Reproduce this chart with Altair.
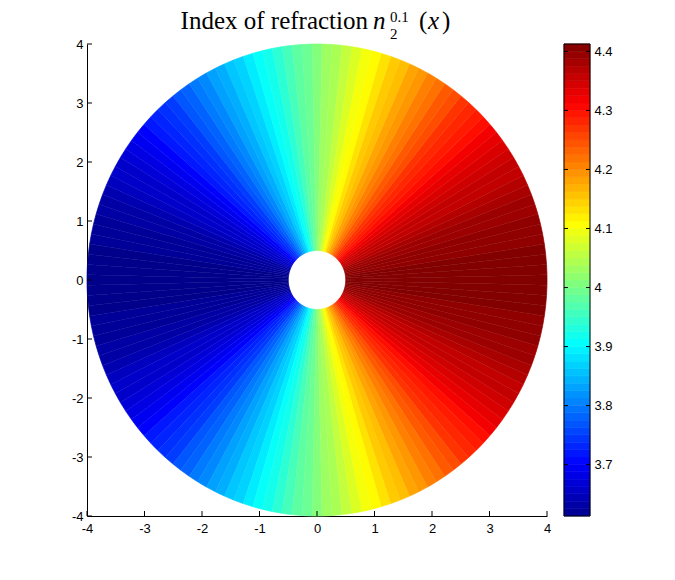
import altair as alt
import numpy as np
import pandas as pd

# Angular sectors (centre angle, degrees) and the refraction index
angles_deg = [i * 2.5 for i in range(144)]
n_values = [
    # 0 .. 180 degrees
    4.41, 4.41, 4.41, 4.41, 4.40, 4.40, 4.40, 4.39, 4.39, 4.38,
    4.37, 4.36, 4.36, 4.35, 4.34, 4.33, 4.32, 4.30, 4.29, 4.28,
    4.27, 4.25, 4.24, 4.22, 4.21, 4.19, 4.18, 4.16, 4.15, 4.13,
    4.11, 4.10, 4.08, 4.06, 4.04, 4.03, 4.01, 3.99, 3.98, 3.96,
    3.94, 3.92, 3.91, 3.89, 3.87, 3.86, 3.84, 3.83, 3.81, 3.80,
    3.78, 3.77, 3.75, 3.74, 3.73, 3.72, 3.70, 3.69, 3.68, 3.67,
    3.66, 3.66, 3.65, 3.64, 3.63, 3.63, 3.62, 3.62, 3.62, 3.61,
    3.61, 3.61, 3.61,
    # 182.5 .. 357.5 degrees
    3.61, 3.61, 3.61, 3.62, 3.62, 3.62, 3.63, 3.63, 3.64, 3.65,
    3.66, 3.66, 3.67, 3.68, 3.69, 3.70, 3.72, 3.73, 3.74, 3.75,
    3.77, 3.78, 3.80, 3.81, 3.83, 3.84, 3.86, 3.87, 3.89, 3.91,
    3.92, 3.94, 3.96, 3.98, 3.99, 4.01, 4.03, 4.04, 4.06, 4.08,
    4.10, 4.11, 4.13, 4.15, 4.16, 4.18, 4.19, 4.21, 4.22, 4.24,
    4.25, 4.27, 4.28, 4.29, 4.30, 4.32, 4.33, 4.34, 4.35, 4.36,
    4.36, 4.37, 4.38, 4.39, 4.39, 4.40, 4.40, 4.40, 4.41, 4.41,
    4.41,
]
inner_radius = 0.5
outer_radius = 4.0
x_ticks = [-4, -3, -2, -1, 0, 1, 2, 3, 4]
y_ticks = [-4, -3, -2, -1, 0, 1, 2, 3, 4]
cbar_ticks = [3.7, 3.8, 3.9, 4.0, 4.1, 4.2, 4.3, 4.4]
cbar_min, cbar_max = 3.613, 4.4125
cbar_levels = 64

# jet colormap stops
jet_fracs = [0, 7 / 63, 23 / 63, 39 / 63, 55 / 63, 1]
jet_colors = ["#00008f", "#0000ff", "#00ffff", "#ffff00", "#ff0000", "#800000"]
jet_domain = [cbar_min + f * (cbar_max - cbar_min) for f in jet_fracs]

# build annular sector polygons
half = 1.25
rows = []
for s, (a, v) in enumerate(zip(angles_deg, n_values)):
    arc = np.radians(np.linspace(a - half, a + half, 3))
    pts = [(outer_radius * np.cos(t), outer_radius * np.sin(t)) for t in arc]
    pts += [(inner_radius * np.cos(t), inner_radius * np.sin(t)) for t in arc[::-1]]
    for k, (px, py) in enumerate(pts):
        rows.append({"sector": s, "k": k, "x": px, "y": py, "n": v})
poly = pd.DataFrame(rows)

# colour bar bands (64-level jet)
edges = np.linspace(cbar_min, cbar_max, cbar_levels + 1)
bands = pd.DataFrame({"lo": edges[:-1], "hi": edges[1:], "mid": (edges[:-1] + edges[1:]) / 2})

W, H = 460, 472
CB_X0, CB_X1 = 477, 503
FONT = "Liberation Sans"
SERIF = "Liberation Serif"
xscale = alt.Scale(domain=[-4, 4], nice=False, zero=False)
yscale = alt.Scale(domain=[-4, 4], nice=False, zero=False)
cbscale = alt.Scale(domain=[cbar_min, cbar_max], nice=False, zero=False)
cscale = alt.Scale(type="linear", domain=jet_domain, range=jet_colors, interpolate="rgb")

axis_common = dict(title=None, grid=False, ticks=False, domainColor="black",
                   domainWidth=1, labelFont=FONT, labelFontSize=13, labelColor="black",
                   labelExpr="'' + datum.value", labelFlush=False, labelOverlap=False)
x_axis = alt.Axis(values=x_ticks, labelPadding=6, **axis_common)
y_axis = alt.Axis(values=y_ticks, labelPadding=4, **axis_common)

field = alt.Chart(poly).mark_line(filled=True, strokeWidth=0.7).encode(
    x=alt.X("x:Q", scale=xscale, axis=x_axis),
    y=alt.Y("y:Q", scale=yscale, axis=y_axis),
    color=alt.Color("n:Q", scale=cscale, legend=None),
    stroke=alt.Stroke("n:Q", scale=cscale, legend=None),
    detail="sector:N",
    order="k:Q",
)

xt = alt.Chart(pd.DataFrame({"x": x_ticks})).mark_rule(color="black", strokeWidth=1).encode(
    x=alt.X("x:Q", scale=xscale, axis=x_axis),
    y=alt.value(H), y2=alt.value(H - 5),
)
yt = alt.Chart(pd.DataFrame({"y": y_ticks})).mark_rule(color="black", strokeWidth=1).encode(
    y=alt.Y("y:Q", scale=yscale, axis=y_axis),
    x=alt.value(0), x2=alt.value(5),
)
main = alt.layer(field, xt, yt)

# colour bar
cb_axis = alt.Axis(orient="right", offset=CB_X1 - W, values=cbar_ticks, title=None,
                   grid=False, ticks=False, domain=False, labelPadding=4,
                   labelFont=FONT, labelFontSize=13, labelColor="black",
                   labelOverlap=False, labelFlush=False,
                   labelExpr="datum.value == 4 ? '4' : format(datum.value, '.1f')")
cb_rect = alt.Chart(bands).mark_rect(strokeWidth=0.6).encode(
    y=alt.Y("lo:Q", scale=cbscale, axis=cb_axis),
    y2="hi:Q",
    x=alt.value(CB_X0), x2=alt.value(CB_X1),
    color=alt.Color("mid:Q", scale=cscale, legend=None),
    stroke=alt.Stroke("mid:Q", scale=cscale, legend=None),
)
cb_frame = alt.Chart(pd.DataFrame({"lo": [cbar_min], "hi": [cbar_max]})).mark_rect(
    filled=False, stroke="black", strokeWidth=1).encode(
    y=alt.Y("lo:Q", scale=cbscale, axis=cb_axis), y2="hi:Q",
    x=alt.value(CB_X0), x2=alt.value(CB_X1),
)
cb_df = pd.DataFrame({"lo": cbar_ticks})
cb_tick_l = alt.Chart(cb_df).mark_rule(color="black", strokeWidth=1).encode(
    y=alt.Y("lo:Q", scale=cbscale, axis=cb_axis),
    x=alt.value(CB_X0), x2=alt.value(CB_X0 + 4),
)
cb_tick_r = alt.Chart(cb_df).mark_rule(color="black", strokeWidth=1).encode(
    y=alt.Y("lo:Q", scale=cbscale, axis=cb_axis),
    x=alt.value(CB_X1 - 4), x2=alt.value(CB_X1),
)
colorbar = alt.layer(cb_rect, cb_frame, cb_tick_l, cb_tick_r)


# title pieces (LaTeX-like: Index of refraction n_2^{0.1}(x))
def piece(text, x, y, size, italic=False, align="left"):
    kw = dict(text=text, font=SERIF, fontSize=size, color="black", align=align,
              baseline="alphabetic")
    if italic:
        kw["fontStyle"] = "italic"
    return alt.Chart(pd.DataFrame({"a": [0]})).mark_text(**kw).encode(
        x=alt.value(x), y=alt.value(y))


title_layers = alt.layer(
    piece("Index of refraction", 281, -15, 25, align="right"),
    piece("n", 286, -15, 25, italic=True),
    piece("2", 303, -5, 15),
    piece("0.1", 303, -22, 15),
    piece("(", 332, -15, 25),
    piece("x", 341, -15, 25, italic=True),
    piece(")", 355, -15, 25),
)

chart = alt.layer(main, colorbar, title_layers).resolve_scale(y="independent").properties(
    width=W, height=H,
    autosize=alt.AutoSizeParams(type="none"),
    padding={"left": 79, "top": 36, "right": 120, "bottom": 50},
).configure(background="white").configure_view(stroke=None)

chart.save("out.html", embed_options={"renderer": "svg", "actions": False})
